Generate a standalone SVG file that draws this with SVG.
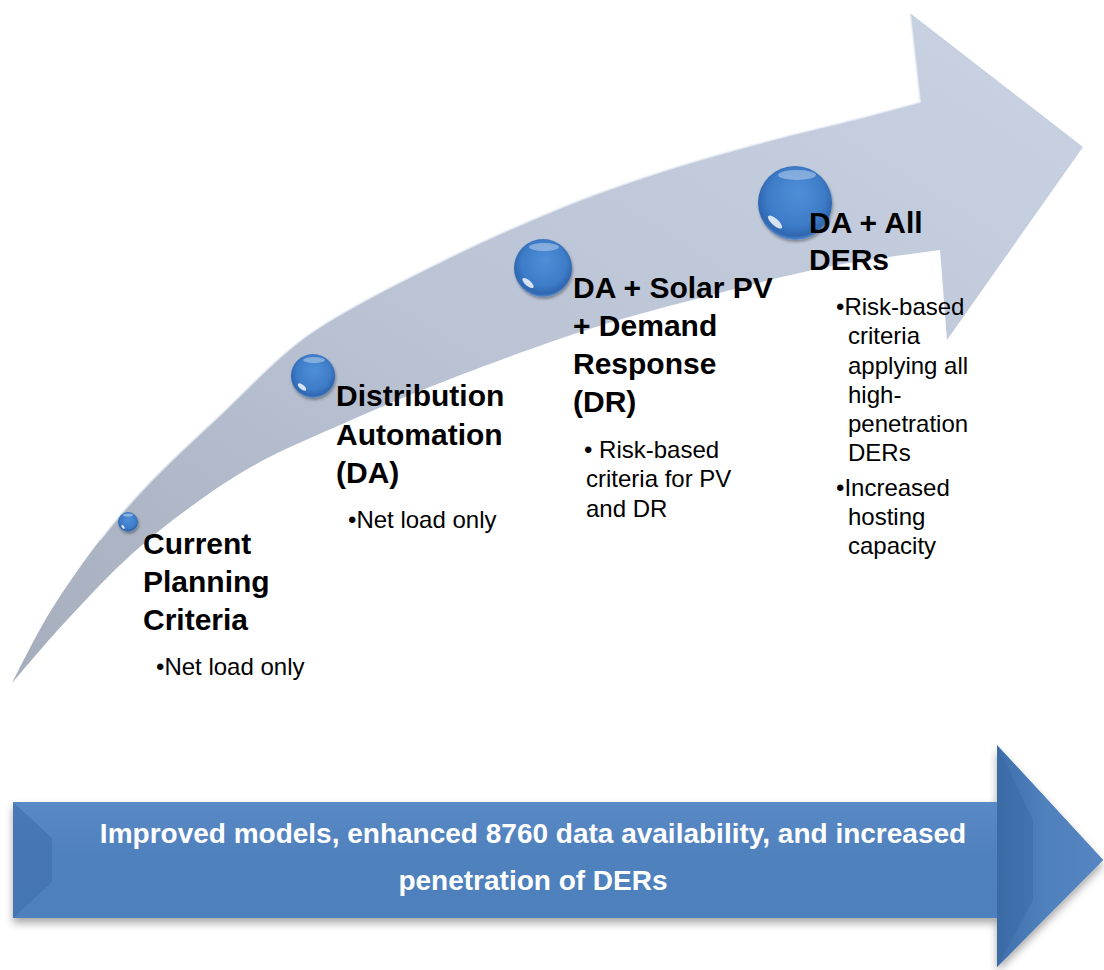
<svg xmlns="http://www.w3.org/2000/svg" width="1104" height="970" viewBox="0 0 1104 970">
<defs>
<style>
.h{font-family:"Liberation Sans",Arial,sans-serif;font-weight:bold;font-size:30px;fill:#000}
.b{font-family:"Liberation Sans",Arial,sans-serif;font-size:24px;fill:#000}
.w{font-family:"Liberation Sans",Arial,sans-serif;font-weight:bold;font-size:28px;fill:#fff}
</style>
<linearGradient id="bandGrad" x1="0" y1="1" x2="1" y2="0">
<stop offset="0" stop-color="#a6aebd"/>
<stop offset="0.45" stop-color="#bac3d4"/>
<stop offset="1" stop-color="#cad3e4"/>
</linearGradient>
<radialGradient id="sphereGrad" cx="0.5" cy="0.45" r="0.55" fx="0.55" fy="0.35">
<stop offset="0" stop-color="#4f8fd8"/>
<stop offset="0.7" stop-color="#3e7cc8"/>
<stop offset="0.92" stop-color="#2f66b0"/>
<stop offset="1" stop-color="#5a8fce"/>
</radialGradient>
<linearGradient id="shaftGrad" x1="0" y1="0" x2="0" y2="1">
<stop offset="0" stop-color="#9cc3ee"/>
<stop offset="0.22" stop-color="#5b8bc6"/>
<stop offset="0.5" stop-color="#4f81bd"/>
<stop offset="0.96" stop-color="#4d7fbb"/>
<stop offset="1" stop-color="#7aa6dc"/>
</linearGradient>
<linearGradient id="headGrad" x1="0" y1="0" x2="1" y2="0">
<stop offset="0" stop-color="#3f6fab"/>
<stop offset="0.45" stop-color="#4f81bd"/>
<stop offset="1" stop-color="#5585c2"/>
</linearGradient>
<filter id="shadow" x="-10%" y="-10%" width="120%" height="140%">
<feGaussianBlur in="SourceAlpha" stdDeviation="4"/>
<feOffset dx="0" dy="5" result="o"/>
<feComponentTransfer><feFuncA type="linear" slope="0.35"/></feComponentTransfer>
<feMerge><feMergeNode/><feMergeNode in="SourceGraphic"/></feMerge>
</filter>
<filter id="sshadow" x="-30%" y="-30%" width="160%" height="160%">
<feGaussianBlur in="SourceAlpha" stdDeviation="1.5"/>
<feOffset dx="1" dy="2"/>
<feComponentTransfer><feFuncA type="linear" slope="0.35"/></feComponentTransfer>
<feMerge><feMergeNode/><feMergeNode in="SourceGraphic"/></feMerge>
</filter>
</defs>
<rect width="1104" height="970" fill="#fff"/>

<g id="curved-arrow">
<path fill="url(#bandGrad)" d="M12,683 C18.3,671.2 35.3,635.8 50,612 C64.7,588.2 83.3,561.7 100,540 C116.7,518.3 130,502.8 150,482 C170,461.2 193,440 220,415 C247,390 275.3,357.5 312,332 C348.7,307.5 398.7,282.7 440,262 C481.3,241.3 523.3,223 560,208 C596.7,193 626.7,182.8 660,172 C693.3,161.2 726.7,152 760,143 C793.3,134 833.3,124.8 860,118 C886.7,111.2 910,104.7 920,102 L910,13 L1083,147 L947,340 L940,250 C921.2,252.8 867,259 827,267 C787,275 741.2,287.2 700,298 C658.8,308.8 623.3,317.8 580,332 C536.7,346.2 480,367.5 440,383 C400,398.5 370,411.8 340,425 C310,438.2 283.3,449.5 260,462 C236.7,474.5 221.2,484.8 200,500 C178.8,515.2 155.2,533 133,553 C110.8,573 87.2,598.3 67,620 C46.8,641.7 21.2,672.5 12,683 Z"/>
<path fill="none" stroke="#eef2f8" stroke-opacity="0.7" stroke-width="2" d="M100,540 C116.7,518.3 130,502.8 150,482 C170,461.2 193,440 220,415 C247,390 275.3,357.5 312,332 C348.7,307.5 398.7,282.7 440,262 C481.3,241.3 523.3,223 560,208 C596.7,193 626.7,182.8 660,172 C693.3,161.2 726.7,152 760,143 C793.3,134 833.3,124.8 860,118 C886.7,111.2 910,104.7 920,102 L910,13"/>
</g>

<g id="bottom-arrow">
<polygon filter="url(#shadow)" fill="url(#shaftGrad)" points="13,802 997,802 997,745 1103,860 997,967 997,918 13,918"/>
<polygon fill="url(#headGrad)" points="997,745 1103,860 997,967 997,918 997,802"/>
<polygon fill="#3e6ea9" opacity="0.55" points="13,802 52,838 52,882 13,918"/>
<polygon fill="#35639c" opacity="0.35" points="997,745 1033,820 1033,900 997,967"/>
<text class="w" x="533" y="843" text-anchor="middle">Improved models, enhanced 8760 data availability, and increased</text>
<text class="w" x="533" y="890" text-anchor="middle">penetration of DERs</text>
</g>

<g id="node-current">
<g filter="url(#sshadow)">
<circle cx="128" cy="522" r="10" fill="url(#sphereGrad)"/>
<ellipse cx="128" cy="515" rx="5" ry="1.6" fill="#fff" opacity="0.4"/>
<ellipse cx="123" cy="527" rx="2.2" ry="1.2" fill="#fff" opacity="0.8" transform="rotate(50 123 527)"/>
</g>
<text class="h" x="143" y="554">Current</text>
<text class="h" x="143" y="592">Planning</text>
<text class="h" x="143" y="630">Criteria</text>
<text class="b" x="156" y="675">•Net load only</text>
</g>

<g id="node-da">
<g filter="url(#sshadow)">
<circle cx="313" cy="376" r="22" fill="url(#sphereGrad)"/>
<ellipse cx="314" cy="360" rx="11" ry="3" fill="#fff" opacity="0.35"/>
<ellipse cx="302" cy="387" rx="5" ry="2.2" fill="#fff" opacity="0.8" transform="rotate(40 302 387)"/>
</g>
<text class="h" x="336" y="406">Distribution</text>
<text class="h" x="336" y="445">Automation</text>
<text class="h" x="336" y="483">(DA)</text>
<text class="b" x="348" y="528">•Net load only</text>
</g>

<g id="node-da-pv-dr">
<g filter="url(#sshadow)">
<circle cx="543" cy="268" r="29" fill="url(#sphereGrad)"/>
<ellipse cx="544" cy="247" rx="15" ry="4" fill="#fff" opacity="0.35"/>
<ellipse cx="528" cy="283" rx="7" ry="2.8" fill="#fff" opacity="0.8" transform="rotate(40 528 283)"/>
</g>
<text class="h" x="573" y="298">DA + Solar PV</text>
<text class="h" x="573" y="336">+ Demand</text>
<text class="h" x="573" y="374">Response</text>
<text class="h" x="573" y="412">(DR)</text>
<text class="b" x="584" y="458">• Risk-based</text>
<text class="b" x="586" y="487">criteria for PV</text>
<text class="b" x="586" y="517">and DR</text>
</g>

<g id="node-da-all-ders">
<g filter="url(#sshadow)">
<circle cx="795" cy="203" r="37" fill="url(#sphereGrad)"/>
<ellipse cx="797" cy="175" rx="19" ry="5" fill="#fff" opacity="0.35"/>
<ellipse cx="775" cy="222" rx="9" ry="3.4" fill="#fff" opacity="0.8" transform="rotate(42 775 222)"/>
</g>
<text class="h" x="809" y="233">DA + All</text>
<text class="h" x="809" y="270">DERs</text>
<text class="b" x="836" y="315">•Risk-based</text>
<text class="b" x="848" y="344">criteria</text>
<text class="b" x="848" y="374">applying all</text>
<text class="b" x="848" y="403">high-</text>
<text class="b" x="848" y="432">penetration</text>
<text class="b" x="848" y="461">DERs</text>
<text class="b" x="836" y="496">•Increased</text>
<text class="b" x="848" y="525">hosting</text>
<text class="b" x="848" y="554">capacity</text>
</g>
</svg>
